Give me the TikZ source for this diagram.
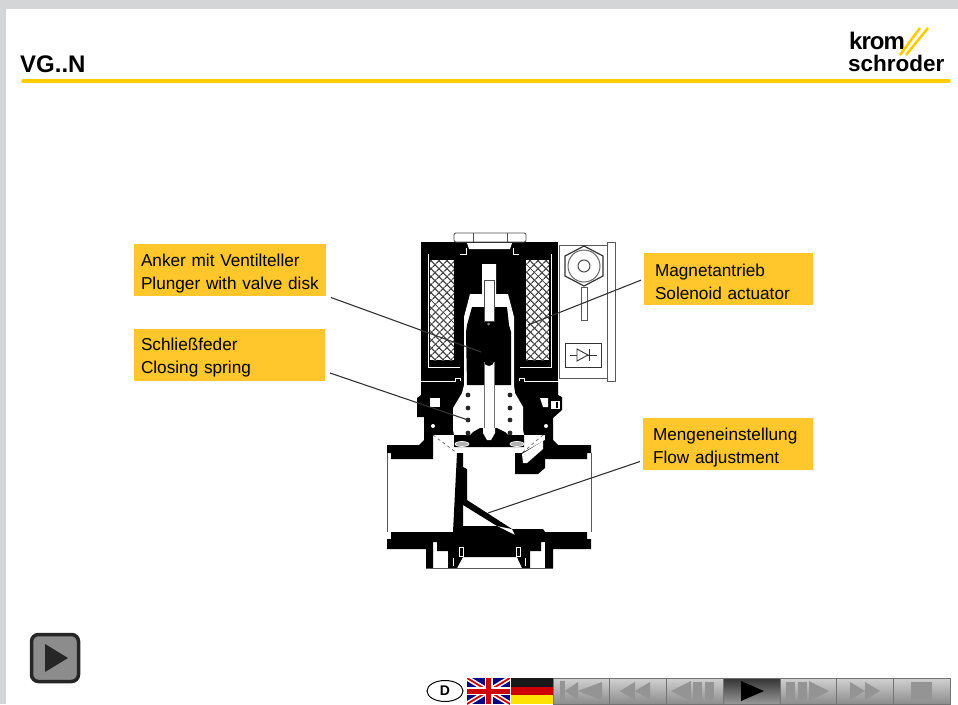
\documentclass[tikz,border=0pt]{standalone}
\usepackage{fontspec}
\setmainfont{Liberation Sans}
\usetikzlibrary{patterns.meta,shapes.geometric}
\definecolor{krYellow}{HTML}{FFC72C}
\definecolor{krRule}{HTML}{FFCC00}
\definecolor{krFrame}{HTML}{D4D5D7}
\newcommand{\coilhatch}[4]{
	\fill[white] (#1,#2) rectangle (#3,#4);
	\fill[pattern={Lines[angle=45,distance=5.4pt,line width=1.3pt]},pattern color=black!75] (#1,#2) rectangle (#3,#4);
	\fill[pattern={Lines[angle=-45,distance=5.4pt,line width=1.3pt]},pattern color=black!75] (#1,#2) rectangle (#3,#4);
}
\begin{document}
\begin{tikzpicture}[
		x=1pt, y=-1pt,
		callout/.style = {fill=krYellow, align=left, inner ysep=0pt, text width=#1, text height=19pt, minimum height=52pt, font=\fontsize{17.2}{23}\selectfont},
		leader/.style = {draw=black!80, line width=1.1pt},
		thin line/.style = {draw=white, line width=.9pt},
		outline/.style = {draw=black!65, line width=.9pt},
		navbtn/.style = {draw=black!55, line width=.6pt, minimum width=57pt, minimum height=26pt, inner sep=0pt, top color=black!18, bottom color=black!45},
		navicon/.style = {fill=black!42},
		logotext/.style = {anchor=base west, inner sep=0pt, font=\bfseries}
	]
	\useasboundingbox (0,0) rectangle (958,704);
	% Frame.
	\fill[krFrame] (0,0) rectangle (958,9);
	\fill[krFrame] (0,0) rectangle (6,704);
	% Head.
	\node[anchor=base west, inner sep=0pt, font=\fontsize{24}{24}\selectfont\bfseries] (title) at (20,72) {VG..N};
	\draw[krRule, line width=3.5pt, line cap=round] (23,81) -- (949,81);
	\node[logotext] (krom) at (849,49) {\fontsize{24}{24}\selectfont\addfontfeatures{LetterSpace=-4}krom};
	\node[logotext] (schroder) at (848,71) {\fontsize{22.5}{22.5}\selectfont schroder};
	\draw[krRule, line width=2.6pt] (900,55) -- (920,28);
	\draw[krRule, line width=2.6pt] (906,55) -- (928,28);

	% Lower valve body.
	\fill (421,382) -- (421,395) -- (417,398) -- (417,417) -- (424,417) -- (424,440) -- (419,445) -- (387,445) -- (387,453) -- (391,453) -- (391,459) -- (433,459) -- (433,435) -- (545,435) -- (545,459) -- (587,459) -- (587,453) -- (591,453) -- (591,445) -- (558,445) -- (553,440) -- (553,418) -- (562,410) -- (562,397) -- (558,395) -- (558,382) -- cycle;
	\fill[white] (464,385) -- (462,393) -- (453,408) -- (453,430) -- (454,435) -- (524,435) -- (523,430) -- (523,407) -- (515,393) -- (514,385) -- cycle;
	\fill[white] (430,398) rectangle (440,407);
	\fill[white] (540,398) -- (548,398) -- (548,407) -- (543,407) -- cycle;
	\fill[white] (551,401) rectangle (560,409);
	\fill (556,402) rectangle (558,408);
	\fill[white] (433,426) circle (2pt);
	\fill[white] (546,426) circle (2pt);
	% Seat wedges.
	\fill[white] (433,435) -- (454,435) -- (457,453) -- cycle;
	\fill[white] (524,435) -- (543,435) -- (522,453) -- (515,453) -- cycle;
	\draw[black!60, dashed, line width=.7pt] (433,435) -- (457,453);
	\draw[black!60, dashed, line width=.7pt] (543,435) -- (522,453);
	\fill (515,453) -- (515,474) -- (538,474) -- (545,468) -- (545,459) -- (545,440) -- (522,453) -- cycle;
	\fill[white] (522,454) -- (543,441) -- (543,449) -- (527,463) -- (523,463) -- cycle;
	% Valve disk.
	\fill (454,435) -- (470,435) -- (473,432) -- (480,428) -- (497,428) -- (505,432) -- (508,435) -- (524,435) -- (524,447) -- (454,447) -- cycle;
	\filldraw[fill=black!30, draw=white, line width=.7pt] (462,444) ellipse (7pt and 2.5pt);
	\filldraw[fill=black!30, draw=white, line width=.7pt] (517,444) ellipse (7pt and 2.5pt);
	% Spring.
	\foreach \ypos in {395,408,420,433} {
		\fill[black!85] (468,\ypos) circle (2.4pt);
		\fill[black!85] (510,\ypos) circle (2.4pt);
	}
	% Flow wall.
	\fill (457,453) -- (463,453) -- (463,532) -- (453,532) -- cycle;
	\fill (463,467) -- (467,469) -- (467,500) -- (512,529) -- (497,526) -- (463,505) -- cycle;
	% Bottom part.
	\fill (391,532) -- (391,539) -- (387,539) -- (387,549) -- (426,549) -- (426,568) -- (433,568) -- (433,542) -- (437,542) -- (437,551) -- (448,551) -- (448,568) -- (457,568) -- (463,557) -- (517,557) -- (522,568) -- (530,568) -- (530,551) -- (541,551) -- (541,542) -- (545,542) -- (545,568) -- (553,568) -- (553,549) -- (591,549) -- (591,539) -- (587,539) -- (587,532) -- (545,532) -- (543,529) -- (512,529) -- (515,535) -- (497,526) -- (463,526) -- (463,532) -- cycle;
	\draw[thin line] (459,547) rectangle (463,556);
	\draw[thin line] (516,547) rectangle (520,556);
	\draw[thin line] (453,558) -- (453,566);
	\draw[thin line] (525,558) -- (525,566);
	\draw[outline] (387,453) -- (387,532);
	\draw[outline] (591,453) -- (591,532);
	\draw[outline] (426,568) -- (553,568);

	% Upper part.
	\fill (421,242) rectangle (558,382);
	\coilhatch{430}{260}{454}{360}
	\coilhatch{526}{260}{549}{360}
	\draw[thin line] (428,254) -- (428,367) -- (460,367);
	\draw[thin line] (551,254) -- (551,367) -- (520,367);
	\draw[thin line] (421,381) -- (455,381) -- (455,378) -- (460,378) -- (460,381);
	\draw[thin line] (558,381) -- (524,381) -- (524,378) -- (519,378) -- (519,381);
	\draw[thin line] (460,254) -- (466,254) -- (466,248);
	\draw[thin line] (519,254) -- (513,254) -- (513,248);
	\fill[white] (467,243) -- (512,243) -- (510,249) -- (469,249) -- cycle;
	% Plunger.
	\fill[white] (482,264) -- (496,264) -- (496,294) -- (508,294) -- (514,317) -- (514,385) -- (464,385) -- (464,317) -- (470,294) -- (482,294) -- cycle;
	\fill (472,307) -- (507,307) -- (509,325) -- (511,332) -- (511,385) -- (467,385) -- (466,332) -- (467,325) -- cycle;
	\filldraw[fill=white, draw=black!70, line width=.8pt] (484,280) rectangle (494,321);
	\fill[black!50] (488.5,324) circle (1.5pt);
	\fill[white] (484,362) arc (180:360:5 and -4) -- (494,430) -- (484,430) -- cycle;
	\draw[black!55, line width=.7pt] (484,362) -- (484,428);
	\draw[black!55, line width=.7pt] (494,362) -- (494,428);
	\fill[white] (483,428) -- (495,428) -- (495,433) -- (491,440) -- (487,440) -- (483,433) -- cycle;

	% Nut on top.
	\draw[draw=black!70, fill=white, line width=.8pt, rounded corners=2pt] (454,233) rectangle (526,242);
	\draw[black!70, line width=.8pt] (473,233) -- (473,242);
	\draw[black!70, line width=.8pt] (507,233) -- (507,242);
	% Connector box.
	\draw[outline] (559,245) rectangle (607,378);
	\draw[outline, fill=white] (607,242) rectangle (615,381);
	\draw[black!80, line width=1.2pt] (584,246) -- (603,256) -- (603,276) -- (584,286) -- (565,276) -- (565,256) -- cycle;
	\draw[black!60, line width=1pt] (584,266) circle (16pt);
	\draw[black!70, line width=1pt] (584,266) circle (6pt);
	\draw[outline] (581,287) rectangle (587,320);
	\draw[black!80, line width=.9pt] (565,343) rectangle (601,367);
	\draw[black!80, line width=.9pt] (570,355) -- (597,355);
	\draw[black!80, line width=.9pt, fill=white] (577,349) -- (588,355) -- (577,361) -- cycle;
	\draw[black!80, line width=.9pt] (589,349) -- (589,361);

	% Labels.
	\node[callout=178pt, inner xsep=7pt] (anker) at (230,270) {Anker mit Ventilteller\\Plunger with valve disk};
	\node[callout=177pt, inner xsep=7pt] (feder) at (229.5,354.5) {Schließfeder\\Closing spring};
	\node[callout=147pt, inner xsep=11pt] (magnet) at (728.5,279) {Magnetantrieb\\Solenoid actuator};
	\node[callout=150pt, inner xsep=10pt] (menge) at (728,444) {Mengeneinstellung\\Flow adjustment};
	\coordinate (plunger) at (481,352);
	\coordinate (spring) at (468,420);
	\coordinate (coil) at (528,325);
	\coordinate (wall) at (488,513);
	\draw[leader, shorten <=5pt] (anker.-15) -- (plunger);
	\draw[leader, shorten <=5pt] (feder.-10) -- (spring);
	\draw[leader, shorten <=3pt] (magnet.west) -- (coil);
	\draw[leader, shorten <=3pt] (menge.191) -- (wall);

	% Play button.
	\node[draw=black!85, fill=black!45, line width=3.5pt, rounded corners=7pt, minimum size=47pt, inner sep=0pt] (start) at (55,658) {};
	\fill[black!85] (45,644) -- (68,658) -- (45,672) -- cycle;

	% Navigation.
	\node[draw, ellipse, line width=1pt, minimum width=36pt, minimum height=21pt, inner sep=0pt, font=\fontsize{14}{14}\selectfont\bfseries] (lang) at (445,691) {D};
	\begin{scope}
		\clip (467,678) rectangle (510,704);
		\fill[blue!50!black] (467,678) rectangle (510,704);
		\draw[white, line width=5pt] (467,678) -- (510,704);
		\draw[white, line width=5pt] (467,704) -- (510,678);
		\draw[red!80!black, line width=1.8pt] (467,678) -- (510,704);
		\draw[red!80!black, line width=1.8pt] (467,704) -- (510,678);
		\draw[white, line width=8pt] (488.5,678) -- (488.5,704);
		\draw[white, line width=8pt] (467,691) -- (510,691);
		\draw[red!80!black, line width=5pt] (488.5,678) -- (488.5,704);
		\draw[red!80!black, line width=5pt] (467,691) -- (510,691);
	\end{scope}
	\fill[black!90] (511,678) rectangle (553,687);
	\fill[red!80!black] (511,687) rectangle (553,695);
	\fill[yellow!85!orange] (511,695) rectangle (553,704);
	\foreach \name/\xpos in {first/581.5, back/638, prev/694.5, next/808, fwd/864.5, last/922} {
		\node[navbtn] (\name) at (\xpos,691) {};
	}
	\node[navbtn, top color=black!80, bottom color=black!40] (play) at (751.5,691) {};
	% Icons.
	\fill[navicon] (560,681) rectangle (565,700);
	\fill[navicon] (565,691) -- (578,682) -- (578,700) -- cycle;
	\fill[navicon] (578,691) -- (602,682) -- (602,700) -- cycle;
	\fill[navicon] (620,691) -- (635,682) -- (635,700) -- cycle;
	\fill[navicon] (635,691) -- (650,682) -- (650,700) -- cycle;
	\fill[navicon] (671,691) -- (691,681) -- (691,701) -- cycle;
	\fill[navicon] (693,682) rectangle (702,700);
	\fill[navicon] (705,682) rectangle (714,700);
	\fill (741,681) -- (764,691) -- (741,701) -- cycle;
	\fill[navicon] (786,682) rectangle (795,700);
	\fill[navicon] (798,682) rectangle (807,700);
	\fill[navicon] (809,681) -- (829,691) -- (809,701) -- cycle;
	\fill[navicon] (850,682) -- (865,691) -- (850,700) -- cycle;
	\fill[navicon] (865,682) -- (880,691) -- (865,700) -- cycle;
	\fill[navicon] (911,682) rectangle (932,700);
\end{tikzpicture}
\end{document}
